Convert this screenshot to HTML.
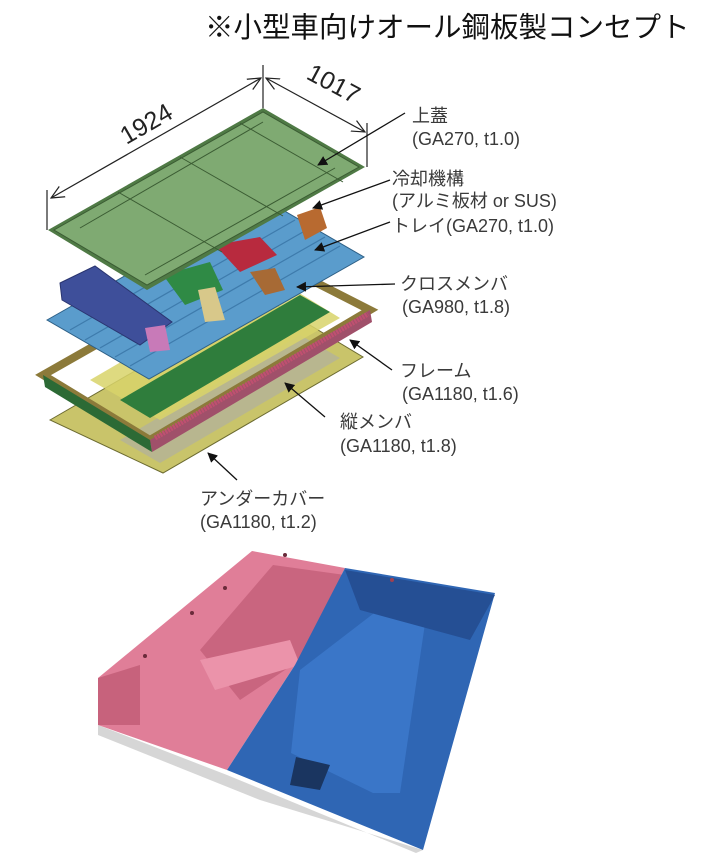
<!DOCTYPE html>
<html><head><meta charset="utf-8"><style>
html,body{margin:0;padding:0;background:#fff;}
svg{display:block;}
text{font-family:"Liberation Sans","Noto Sans CJK JP",sans-serif;fill:#3a3a3a;}
</style></head><body>
<svg width="709" height="866" viewBox="0 0 709 866" xmlns="http://www.w3.org/2000/svg">
<defs>
<marker id="ah" markerWidth="10" markerHeight="10" refX="9" refY="5" orient="auto" markerUnits="userSpaceOnUse">
<path d="M0,0 L10,5 L0,10 z" fill="#111"/></marker>
<marker id="oa" markerWidth="14" markerHeight="14" refX="13" refY="7" orient="auto-start-reverse" markerUnits="userSpaceOnUse">
<path d="M0,1 L13,7 L0,13" fill="none" stroke="#222" stroke-width="1.2"/></marker>
</defs>
<text x="205" y="37" font-size="28.5" style="fill:#111">※小型車向けオール鋼板製コンセプト</text>

<!-- under cover -->
<polygon points="50,420 263,297 363,357 163,473" fill="#c9c46a" stroke="#6b6a30" stroke-width="1"/>
<polygon points="120,440 300,335 340,358 160,463" fill="#b0b0a0" opacity="0.7"/>
<!-- frame -->
<polygon points="43,375 258,253 370,310 150,440" fill="none" stroke="#8c7a3a" stroke-width="8"/>
<polygon points="90,380 270,275 340,318 160,420" fill="#d8d36a" opacity="0.85"/>
<polygon points="120,400 300,295 330,312 150,418" fill="#2f7d3c"/>
<polygon points="150,440 370,310 372,322 152,452" fill="#a0506a"/>
<polygon points="43,375 150,440 152,452 45,387" fill="#2c6a35"/>
<line x1="155" y1="438" x2="368" y2="314" stroke="#c05070" stroke-width="5" stroke-dasharray="2,1"/>
<!-- tray -->
<polygon points="47,320 262,198 364,257 149,379" fill="#5a9ccc" stroke="#2d5f86" stroke-width="1"/>
<g stroke="#3e7bac" stroke-width="1.2">
<line x1="70" y1="330" x2="280" y2="210"/><line x1="85" y1="340" x2="295" y2="220"/>
<line x1="100" y1="348" x2="310" y2="228"/><line x1="115" y1="357" x2="325" y2="237"/>
<line x1="130" y1="366" x2="340" y2="246"/></g>
<polygon points="60,283 95,266 172,322 140,345 62,300" fill="#3e4f9a" stroke="#2a3570" stroke-width="1"/>
<polygon points="163,275 210,262 223,290 185,305" fill="#2f8a45"/>
<polygon points="215,245 260,237 277,255 240,272" fill="#b82a3e"/>
<polygon points="297,215 320,207 327,228 305,240" fill="#b86a30"/>
<polygon points="250,272 275,268 285,290 265,295" fill="#a76a35"/>
<polygon points="198,290 215,287 225,320 205,322" fill="#d8c88a"/>
<polygon points="145,328 165,325 170,350 150,352" fill="#c87ab8"/>
<!-- lid -->
<polygon points="48,230 263,108 365,167 147,290" fill="#4f7a45"/>
<polygon points="54,230 263,112 359,167 147,285" fill="#7faa72" stroke="#3b5c33" stroke-width="1"/>
<g stroke="#3b5c33" stroke-width="1" fill="none">
<line x1="118" y1="192" x2="222" y2="252"/><line x1="180" y1="157" x2="283" y2="216"/>
<line x1="240" y1="123" x2="343" y2="182"/>
<line x1="80" y1="228" x2="263" y2="122"/><line x1="145" y1="275" x2="335" y2="168"/></g>
<!-- dimensions -->
<g stroke="#222" stroke-width="1.2">
<line x1="47" y1="230" x2="47" y2="190"/><line x1="263" y1="108" x2="263" y2="65"/><line x1="367" y1="167" x2="367" y2="123"/>
<line x1="51" y1="198" x2="261" y2="78" marker-start="url(#oa)" marker-end="url(#oa)"/>
<line x1="266" y1="78" x2="365" y2="132" marker-start="url(#oa)" marker-end="url(#oa)"/>
</g>
<text x="147" y="132" font-size="25" text-anchor="middle" transform="rotate(-30 147 125)" style="fill:#222">1924</text>
<text x="333" y="92" font-size="25" text-anchor="middle" transform="rotate(28 333 85)" style="fill:#222">1017</text>
<!-- arrows -->
<g stroke="#111" stroke-width="1.3">
<line x1="405" y1="113" x2="318" y2="165" marker-end="url(#ah)"/>
<line x1="390" y1="180" x2="313" y2="208" marker-end="url(#ah)"/>
<line x1="390" y1="222" x2="315" y2="250" marker-end="url(#ah)"/>
<line x1="395" y1="284" x2="297" y2="287" marker-end="url(#ah)"/>
<line x1="392" y1="370" x2="350" y2="340" marker-end="url(#ah)"/>
<line x1="325" y1="417" x2="285" y2="383" marker-end="url(#ah)"/>
<line x1="237" y1="480" x2="208" y2="453" marker-end="url(#ah)"/>
</g>
<g font-size="18">
<text x="412" y="122">上蓋</text><text x="412" y="145">(GA270, t1.0)</text>
<text x="392" y="185">冷却機構</text><text x="392" y="207">(アルミ板材 or SUS)</text>
<text x="392" y="232">トレイ(GA270, t1.0)</text>
<text x="400" y="290">クロスメンバ</text><text x="402" y="313">(GA980, t1.8)</text>
<text x="400" y="377">フレーム</text><text x="402" y="400">(GA1180, t1.6)</text>
<text x="340" y="428">縦メンバ</text><text x="340" y="452">(GA1180, t1.8)</text>
<text x="200" y="505">アンダーカバー</text><text x="200" y="528">(GA1180, t1.2)</text>
</g>

<!-- photo -->
<polygon points="98,725 227,775 416,853 423,850 260,800 98,735" fill="#bbb" opacity="0.6"/>
<polygon points="252,551 345,568 295,665 227,770 98,725 98,678" fill="#e07e98"/>
<polygon points="273,565 345,575 300,660 240,700 200,650" fill="#c9657f"/>
<polygon points="98,678 140,665 140,725 98,725" fill="#c7627c"/>
<polygon points="200,660 290,640 300,665 215,690" fill="#eb93aa"/>
<polygon points="345,568 495,593 423,850 227,770 295,665" fill="#2f66b4"/>
<polygon points="382,607 427,610 400,793 373,793 291,753 300,670" fill="#3a76c8"/>
<polygon points="345,570 495,595 470,640 360,610" fill="#254f94"/>
<polygon points="296,757 330,765 320,790 290,785" fill="#1a3560"/>
<circle cx="285" cy="555" r="2" fill="#6a2a3a"/><circle cx="225" cy="588" r="2" fill="#6a2a3a"/>
<circle cx="192" cy="613" r="2" fill="#6a2a3a"/><circle cx="145" cy="656" r="2" fill="#6a2a3a"/>
<circle cx="392" cy="580" r="2" fill="#a04050"/>
</svg>
</body></html>
